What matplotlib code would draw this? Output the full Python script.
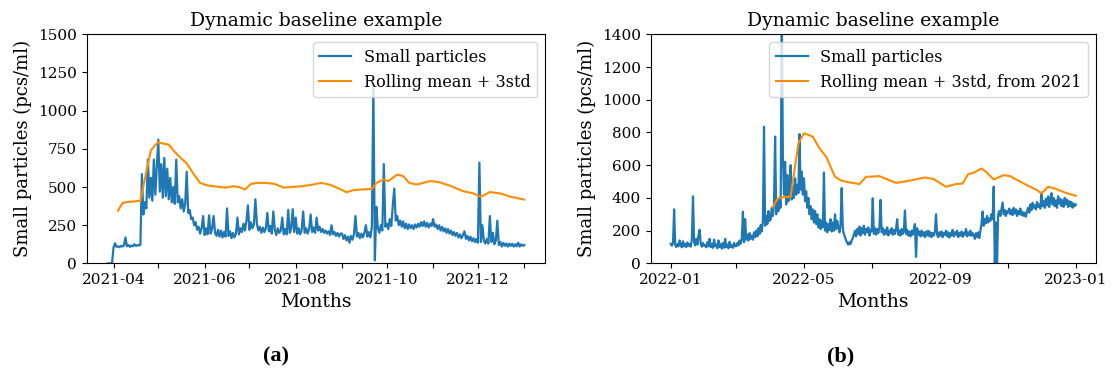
import matplotlib.pyplot as plt
import matplotlib.dates as mdates
import pandas as pd

plt.rcParams["font.family"] = "DejaVu Serif"

# small particles, daily values, 2021-03-28 .. 2022-01-01
mar21 = [0, 0, 0, 0]
apr21 = [104, 132, 108, 112, 106, 115, 110, 118, 170, 112, 120, 108, 117, 112, 125,
         114, 120, 118, 122, 585, 320, 400, 360, 680, 430, 560, 410, 680, 450, 640]
may21 = [810, 470, 650, 430, 690, 440, 620, 420, 560, 400, 500, 390, 680, 400, 440,
         360, 420, 340, 390, 600, 330, 350, 290, 300, 250, 270, 220, 240, 195, 230, 310]
jun21 = [185, 230, 190, 315, 195, 225, 310, 200, 180, 220, 175, 215, 170, 205, 175,
         360, 180, 210, 165, 200, 170, 195, 300, 190, 230, 205, 260, 215, 280, 380]
jul21 = [220, 270, 230, 255, 420, 260, 215, 240, 200, 235, 205, 230, 330, 210, 245,
         195, 340, 220, 185, 230, 200, 215, 300, 190, 225, 190, 350, 200, 230, 355, 205]
aug21 = [300, 195, 230, 190, 220, 340, 200, 230, 195, 225, 320, 205, 235, 200, 300,
         215, 240, 205, 225, 200, 215, 195, 210, 185, 250, 190, 205, 180, 200, 175, 195]
sep21 = [195, 160, 185, 150, 175, 135, 180, 155, 190, 310, 175, 200, 165, 195, 170,
         200, 250, 175, 205, 170, 240, 1170, 20, 370, 230, 200, 250, 215, 650, 240]
oct21 = [260, 225, 290, 245, 380, 490, 280, 310, 250, 280, 240, 275, 230, 260, 225,
         255, 230, 250, 225, 255, 235, 260, 240, 270, 245, 275, 240, 265, 235, 260, 245]
nov21 = [290, 240, 255, 225, 250, 215, 240, 210, 230, 200, 225, 195, 215, 185, 205,
         180, 200, 170, 190, 165, 185, 210, 160, 180, 150, 175, 145, 165, 140, 160]
dec21 = [135, 660, 140, 250, 150, 130, 160, 130, 310, 140, 200, 125, 150, 280, 120,
         140, 110, 135, 115, 130, 110, 130, 115, 128, 110, 125, 112, 135, 110, 125, 115]
jan22_first = [120]

# rolling mean + 3std, 2021
base21_dates = ["2021-04-04", "2021-04-07", "2021-04-10", "2021-04-14", "2021-04-19",
                "2021-04-23", "2021-04-26", "2021-04-29", "2021-05-01", "2021-05-04",
                "2021-05-08", "2021-05-12", "2021-05-16", "2021-05-20", "2021-05-25",
                "2021-05-29", "2021-06-03", "2021-06-10", "2021-06-15", "2021-06-20",
                "2021-06-24", "2021-06-28", "2021-07-02", "2021-07-06", "2021-07-12",
                "2021-07-18", "2021-07-24", "2021-07-29", "2021-08-05", "2021-08-12",
                "2021-08-18", "2021-08-24", "2021-08-30", "2021-09-04", "2021-09-09",
                "2021-09-14", "2021-09-21", "2021-09-24", "2021-09-29", "2021-10-02",
                "2021-10-08", "2021-10-12", "2021-10-16", "2021-10-21", "2021-10-30",
                "2021-11-05", "2021-11-12", "2021-11-21", "2021-11-28", "2021-12-03",
                "2021-12-09", "2021-12-16", "2021-12-23", "2022-01-01"]
base21_vals = [345, 395, 402, 405, 410, 600, 740, 775, 793, 785,
               778, 730, 690, 655, 580, 527, 510, 502, 496, 505,
               500, 484, 520, 527, 527, 520, 496, 500, 505, 515,
               527, 515, 490, 466, 480, 484, 487, 527, 549, 539,
               582, 571, 527, 516, 539, 532, 510, 473, 458, 436,
               467, 458, 436, 418]

# small particles, daily values, 2022-01-01 .. 2023-01-01
jan22 = [120, 108, 125, 330, 112, 100, 118, 105, 140, 110, 98, 135, 104, 120, 100,
         128, 108, 118, 102, 150, 410, 130, 110, 150, 115, 175, 205, 118, 102, 125, 108]
feb22 = [112, 98, 130, 105, 150, 100, 120, 95, 145, 104, 115, 92, 140, 100, 118,
         90, 125, 96, 150, 98, 115, 92, 132, 100, 110, 95, 125, 105]
mar22 = [105, 125, 110, 140, 120, 150, 315, 130, 270, 145, 175, 140, 185, 150, 170,
         145, 190, 160, 200, 165, 215, 180, 235, 195, 260, 835, 230, 290, 240, 320, 260]
apr22 = [270, 340, 290, 360, 775, 300, 380, 320, 400, 340, 1550, 660, 420, 620, 360,
         540, 380, 460, 600, 390, 470, 400, 520, 420, 480, 430, 790, 450, 560, 420]
may22 = [520, 380, 440, 340, 400, 300, 350, 270, 330, 250, 320, 240, 300, 220, 270,
         210, 260, 220, 555, 200, 250, 190, 240, 205, 270, 195, 250, 200, 300, 210, 260]
jun22 = [220, 190, 240, 460, 210, 180, 160, 140, 125, 115, 130, 118, 140, 155, 175,
         200, 165, 210, 180, 225, 170, 215, 185, 230, 175, 210, 190, 220, 170, 205]
jul22 = [195, 398, 180, 215, 175, 210, 185, 220, 388, 190, 215, 175, 205, 180, 220,
         170, 200, 185, 215, 175, 205, 180, 210, 270, 175, 200, 170, 210, 180, 195, 323]
aug22 = [180, 205, 170, 195, 165, 200, 175, 210, 240, 40, 215, 175, 195, 165, 200,
         170, 190, 160, 195, 170, 200, 165, 190, 160, 185, 170, 195, 300, 175, 160, 190]
sep22 = [170, 195, 160, 185, 175, 200, 165, 190, 158, 185, 170, 205, 165, 190, 175,
         200, 160, 185, 170, 195, 162, 188, 175, 210, 165, 190, 172, 200, 168, 185]
oct22 = [175, 150, 185, 160, 190, 155, 200, 240, 317, 230, 270, 245, 290, 250, 275,
         260, 300, 270, 469, 0, 250, 0, 300, 320, 290, 330, 372, 300, 325, 290, 320]
nov22 = [310, 335, 300, 325, 295, 340, 305, 330, 290, 320, 300, 335, 295, 315, 290,
         310, 285, 320, 340, 310, 360, 325, 370, 340, 355, 330, 375, 345, 360, 335]
dec22 = [433, 350, 380, 340, 395, 355, 410, 345, 390, 429, 360, 400, 350, 385, 340,
         410, 365, 395, 350, 385, 345, 400, 360, 390, 345, 380, 350, 375, 340, 365, 350]
jan23 = [360]

# rolling mean + 3std carried over from 2021
base22_dates = ["2022-04-03", "2022-04-07", "2022-04-11", "2022-04-19", "2022-04-26",
                "2022-05-01", "2022-05-05", "2022-05-09", "2022-05-15", "2022-05-21",
                "2022-05-29", "2022-06-04", "2022-06-11", "2022-06-20", "2022-06-26",
                "2022-07-08", "2022-07-23", "2022-08-04", "2022-08-18", "2022-08-26",
                "2022-09-06", "2022-09-15", "2022-09-21", "2022-09-26", "2022-10-01",
                "2022-10-08", "2022-10-12", "2022-10-19", "2022-10-28", "2022-11-03",
                "2022-11-15", "2022-11-27", "2022-12-01", "2022-12-07", "2022-12-13",
                "2022-12-23", "2023-01-01"]
base22_vals = [343, 394, 404, 408, 734,
               795, 785, 774, 703, 652,
               529, 505, 495, 485, 529,
               533, 492, 505, 525, 515,
               468, 485, 488, 546, 554,
               580, 560, 513, 539, 533,
               488, 448, 427, 468, 458,
               431, 413]

small_2021 = mar21 + apr21 + may21 + jun21 + jul21 + aug21 + sep21 + oct21 + nov21 + dec21 + jan22_first
small_2022 = jan22 + feb22 + mar22 + apr22 + may22 + jun22 + jul22 + aug22 + sep22 + oct22 + nov22 + dec22 + jan23
days_2021 = pd.date_range("2021-03-28", periods=len(small_2021), freq="D")
days_2022 = pd.date_range("2022-01-01", periods=len(small_2022), freq="D")

fig = plt.figure(figsize=(11.13, 3.76), dpi=100)
ax1 = fig.add_axes([0.0779, 0.2995, 0.4118, 0.6093])
ax2 = fig.add_axes([0.5845, 0.2995, 0.4003, 0.6093])


def draw(ax, days, small, bdates, bvals, blabel, ymax, major, minor):
    ax.plot(days, small, color="#1f77b4", linewidth=1.6, label="Small particles")
    ax.plot(pd.to_datetime(bdates), bvals, color="darkorange", linewidth=1.5, label=blabel)
    ax.set_ylim(0, ymax)
    ax.xaxis.set_major_locator(mdates.MonthLocator(bymonth=major))
    ax.xaxis.set_minor_locator(mdates.MonthLocator(bymonth=minor))
    ax.xaxis.set_major_formatter(mdates.DateFormatter("%Y-%m"))
    ax.tick_params(which="both", labelsize=11, length=3.5, width=0.8)
    ax.set_title("Dynamic baseline example", fontsize=13.5)
    ax.set_xlabel("Months", fontsize=13.5)
    ax.set_ylabel("Small particles (pcs/ml)", fontsize=13)
    ax.legend(loc="upper right", fontsize=11.5)


draw(ax1, days_2021, small_2021, base21_dates, base21_vals,
     "Rolling mean + 3std", 1500, [4, 6, 8, 10, 12], [1, 3, 5, 7, 9, 11])
draw(ax2, days_2022, small_2022, base22_dates, base22_vals,
     "Rolling mean + 3std, from 2021", 1400, [1, 5, 9], [3, 7, 11])

fig.text(0.248, 0.053, "(a)", ha="center", va="center", fontsize=16,
         fontweight="bold", family="Liberation Serif")
fig.text(0.7556, 0.053, "(b)", ha="center", va="center", fontsize=16,
         fontweight="bold", family="Liberation Serif")

fig.savefig("out.png", dpi=100)
